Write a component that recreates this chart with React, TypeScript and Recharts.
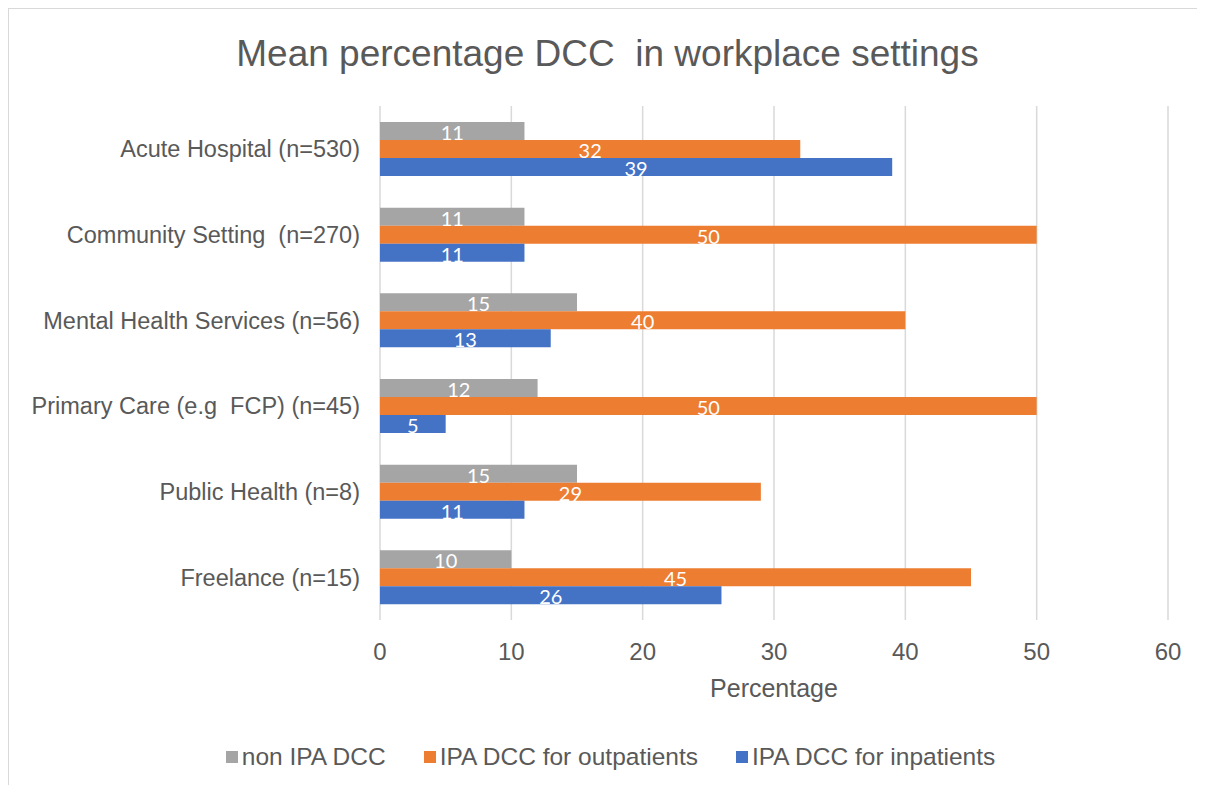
import React from "react";
import { BarChart, Bar, XAxis, YAxis, CartesianGrid, Legend, LabelList } from "recharts";

// second space is a no-break space so the double gap survives text wrapping
const settings = [
  "Acute Hospital (n=530)",
  "Community Setting\u00A0 (n=270)",
  "Mental Health Services (n=56)",
  "Primary Care (e.g\u00A0 FCP) (n=45)",
  "Public Health (n=8)",
  "Freelance (n=15)",
];
const nonIpa = [11, 11, 15, 12, 15, 10];
const ipaOutpatients = [32, 50, 40, 50, 29, 45];
const ipaInpatients = [39, 11, 13, 5, 11, 26];
const xTicks = [0, 10, 20, 30, 40, 50, 60];

const series = [
  { key: "nonIpa", name: "non IPA DCC", color: "#a5a5a5" },
  { key: "outpatients", name: "IPA DCC for outpatients", color: "#ed7d31" },
  { key: "inpatients", name: "IPA DCC for inpatients", color: "#4472c4" },
];

const data = settings.map((name, i) => ({
  name,
  nonIpa: nonIpa[i],
  outpatients: ipaOutpatients[i],
  inpatients: ipaInpatients[i],
}));

const TEXT = "#595959";
const FONT = "'Liberation Sans', Arial, sans-serif";

function LegendContent() {
  return (
    <ul
      style={{
        display: "flex",
        justifyContent: "center",
        alignItems: "center",
        margin: 0,
        padding: "0 0 0 44px",
        listStyle: "none",
        height: 30,
        fontFamily: FONT,
        fontSize: 24.5,
        color: TEXT,
      }}
    >
      {series.map((s, i) => (
        <li
          key={s.key}
          style={{
            display: "flex",
            alignItems: "center",
            marginRight: i < series.length - 1 ? 38 : 0,
          }}
        >
          <span style={{ width: 12, height: 12, background: s.color, marginRight: 4, display: "inline-block" }} />
          <span style={{ whiteSpace: "pre" }}>{s.name}</span>
        </li>
      ))}
    </ul>
  );
}

export default function App() {
  return (
    <div
      style={{
        position: "relative",
        width: 1197,
        height: 776,
        border: "1px solid #d9d9d9",
        background: "#fff",
      }}
    >
      <div
        style={{
          position: "absolute",
          top: 23,
          left: 0,
          width: "100%",
          textAlign: "center",
          fontFamily: FONT,
          fontSize: 37,
          lineHeight: "44px",
          color: TEXT,
          whiteSpace: "pre",
        }}
      >
        Mean percentage DCC  in workplace settings
      </div>
      <BarChart
        width={1197}
        height={776}
        data={data}
        layout="vertical"
        barSize={18}
        barGap={0}
        margin={{ top: 97, right: 38, bottom: 13, left: 0 }}
      >
        <CartesianGrid horizontal={false} vertical stroke="#d9d9d9" strokeWidth={1.5} />
        <XAxis
          type="number"
          domain={[0, 60]}
          ticks={xTicks}
          axisLine={false}
          tickLine={false}
          tickMargin={17}
          height={122}
          tick={{ fill: TEXT, fontSize: 24, fontFamily: FONT }}
          label={{
            value: "Percentage",
            position: "insideBottom",
            offset: 45,
            fill: TEXT,
            fontSize: 25,
            fontFamily: FONT,
          }}
        />
        <YAxis
          type="category"
          dataKey="name"
          width={371}
          axisLine={false}
          tickLine={false}
          tickMargin={14}
          interval={0}
          tick={{ fill: TEXT, fontSize: 23.5, fontFamily: FONT }}
        />
        <Legend verticalAlign="bottom" content={<LegendContent />} />
        {series.map((s) => (
          <Bar key={s.key} dataKey={s.key} name={s.name} fill={s.color} isAnimationActive={false}>
            <LabelList
              dataKey={s.key}
              position="center"
              fill="#ffffff"
              fontSize={20}
              fontFamily="Lato, 'Open Sans', sans-serif"
              dy={2}
            />
          </Bar>
        ))}
      </BarChart>
    </div>
  );
}
